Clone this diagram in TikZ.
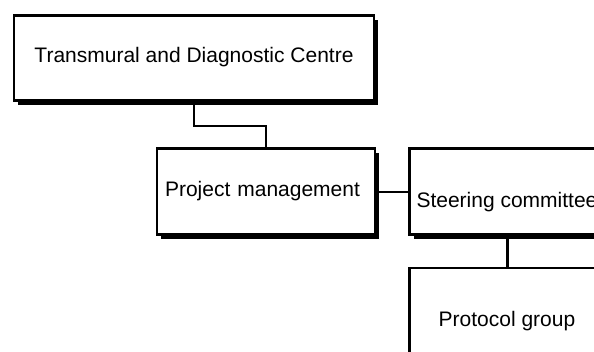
\documentclass[tikz,border=0pt]{standalone}
\usepackage{fontspec}
\setmainfont{Liberation Sans}
\usetikzlibrary{positioning,shadows}

\begin{document}
\begin{tikzpicture}[x=1pt,y=-1pt,node distance=32pt,
  box node/.style={draw,line width=2.5pt,fill=white,
    font=\fontsize{21}{25}\selectfont,minimum height=86pt,
    text height=14pt,text depth=5pt,
    drop shadow={shadow xshift=4pt,shadow yshift=-4pt,fill=black,opacity=1}},
  low text/.style={text height=36pt,minimum width=195pt},
  link/.style={line width=2pt}]
  \clip (0,0) rectangle (594,351);
  \node[box node,minimum width=360pt,minimum height=85pt] (TDC) at (194,58) {Transmural and Diagnostic Centre};
  \node[box node,text width=202pt,inner xsep=8pt,align=left] (PM) at (266,191.5) {Project management};
  \node[box node,low text] (SC) [right=of PM] {Steering committee};
  \node[box node,low text] (PG) [below=31pt of SC] {Protocol group};
  \draw[link] (TDC.south) -- ++(0,24) -| (PM.north);
  \draw[link] (PM.east) -- (SC.west);
  \draw[link,line width=3pt] (SC.south) -- (PG.north);
\end{tikzpicture}
\end{document}
